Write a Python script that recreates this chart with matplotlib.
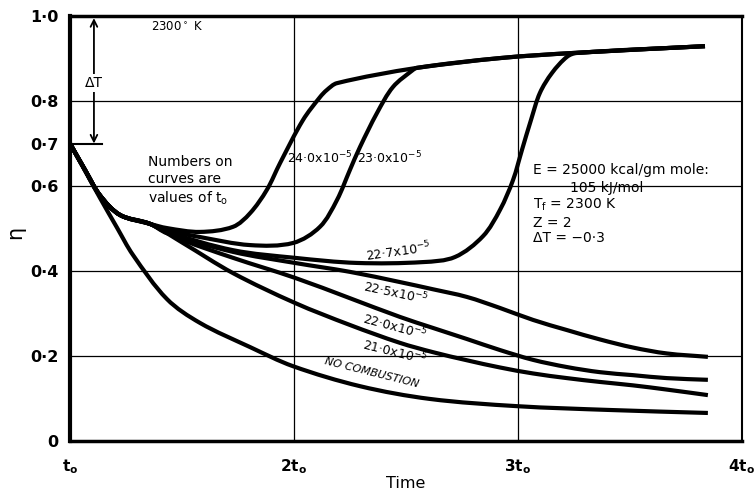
import matplotlib
matplotlib.use("Agg")
import matplotlib.pyplot as plt
import numpy as np
from matplotlib.path import Path
from matplotlib.patches import PathPatch

plt.rcParams['font.family'] = ['DejaVu Sans']
plt.rcParams['mathtext.fontset'] = 'dejavusans'

# ---------------- data (time in units of t0, eta) ----------------
bundle_x = [1.0, 1.067, 1.134, 1.223, 1.357]
bundle_y = [0.700, 0.638, 0.578, 0.532, 0.511]

upper_x = [2.549, 2.920, 3.246, 3.835]
upper_y = [0.878, 0.901, 0.913, 0.929]

c240_x = bundle_x + [1.433, 1.580, 1.728, 1.804, 1.879, 1.938, 2.040, 2.116, 2.147, 2.192] + upper_x
c240_y = bundle_y + [0.501, 0.492, 0.504, 0.536, 0.591, 0.654, 0.755, 0.809, 0.826, 0.842] + upper_y

c230_x = bundle_x + [1.433, 1.580, 1.804, 1.996, 2.116, 2.192, 2.250, 2.295, 2.371, 2.442, 2.531] + upper_x
c230_y = bundle_y + [0.496, 0.480, 0.461, 0.466, 0.504, 0.567, 0.638, 0.692, 0.772, 0.833, 0.873] + upper_y

c227_x = bundle_x + [1.433, 1.728, 2.004, 2.281, 2.576, 2.719, 2.844, 2.920, 2.978, 3.018, 3.058, 3.098, 3.152, 3.219, 3.263, 3.835]
c227_y = bundle_y + [0.492, 0.449, 0.431, 0.419, 0.421, 0.433, 0.482, 0.544, 0.614, 0.685, 0.755, 0.819, 0.866, 0.904, 0.913, 0.929]

c225_x = bundle_x + [1.433, 1.728, 2.004, 2.250, 2.473, 2.621, 2.772, 2.920, 3.067, 3.219, 3.366, 3.513, 3.665, 3.848]
c225_y = bundle_y + [0.489, 0.445, 0.419, 0.398, 0.374, 0.357, 0.339, 0.313, 0.285, 0.261, 0.239, 0.220, 0.206, 0.198]

c220_x = bundle_x + [1.504, 1.728, 2.004, 2.250, 2.473, 2.621, 2.772, 2.920, 3.067, 3.219, 3.366, 3.513, 3.665, 3.848]
c220_y = bundle_y + [0.473, 0.431, 0.384, 0.336, 0.292, 0.266, 0.240, 0.214, 0.191, 0.174, 0.162, 0.155, 0.148, 0.144]

c210_x = bundle_x + [1.504, 1.728, 2.004, 2.250, 2.473, 2.621, 2.772, 2.920, 3.067, 3.219, 3.366, 3.513, 3.665, 3.848]
c210_y = bundle_y + [0.466, 0.395, 0.325, 0.273, 0.231, 0.209, 0.190, 0.173, 0.159, 0.148, 0.139, 0.131, 0.121, 0.108]

nocomb_x = [1.0, 1.067, 1.134, 1.210, 1.281, 1.433, 1.580, 1.804, 1.996, 2.295, 2.607, 2.996, 3.411, 3.848]
nocomb_y = [0.700, 0.636, 0.572, 0.502, 0.438, 0.334, 0.278, 0.221, 0.176, 0.129, 0.099, 0.082, 0.073, 0.066]

ytick_vals = [0, 0.2, 0.4, 0.6, 0.7, 0.8, 1.0]
ytick_labels = ["0", "0·2", "0·4", "0·6", "0·7", "0·8", "1·0"]
xtick_vals = [1, 2, 3, 4]
xtick_labels = [r"t$_\mathbf{o}$", r"2t$_\mathbf{o}$", r"3t$_\mathbf{o}$", r"4t$_\mathbf{o}$"]

# ---------------- figure ----------------
fig = plt.figure(figsize=(7.54, 4.91), dpi=100)
ax = fig.add_axes([0.0928, 0.1018, 0.8912, 0.8656])
ax.set_xlim(1, 4)
ax.set_ylim(0, 1.0)

for yv in [0.2, 0.4, 0.6, 0.8]:
    ax.axhline(yv, color='black', lw=0.9, zorder=1)
for xv in [2, 3]:
    ax.axvline(xv, color='black', lw=0.9, zorder=1)


def smooth_path(xs, ys):
    """Cubic Bezier path through the given data points (chord-length cardinal spline)."""
    pts = np.column_stack([xs, ys]).astype(float)
    disp = ax.transData.transform(pts)
    n = len(pts)
    d = np.hypot(*np.diff(disp, axis=0).T)
    t = np.concatenate([[0], np.cumsum(d)])
    tang = np.zeros_like(pts)
    for i in range(n):
        i0 = max(i - 1, 0)
        i1 = min(i + 1, n - 1)
        tang[i] = (pts[i1] - pts[i0]) / (t[i1] - t[i0])
    verts = [pts[0]]
    codes = [Path.MOVETO]
    for i in range(n - 1):
        h = t[i + 1] - t[i]
        verts += [pts[i] + tang[i] * h / 3, pts[i + 1] - tang[i + 1] * h / 3, pts[i + 1]]
        codes += [Path.CURVE4] * 3
    return Path(verts, codes)


curves = [(c240_x, c240_y), (c230_x, c230_y), (c227_x, c227_y), (c225_x, c225_y),
          (c220_x, c220_y), (c210_x, c210_y), (nocomb_x, nocomb_y)]
for cx, cy in curves:
    ax.add_patch(PathPatch(smooth_path(cx, cy), facecolor='none', edgecolor='black',
                           lw=3.0, joinstyle='round', capstyle='butt', zorder=3))

ax.set_yticks(ytick_vals)
ax.set_yticklabels(ytick_labels, fontsize=11.5, fontweight='bold')
ax.set_xticks(xtick_vals)
ax.set_xticklabels(xtick_labels, fontsize=11, fontweight='bold')
ax.tick_params(axis='both', length=0)
ax.tick_params(axis='x', pad=12)
ax.tick_params(axis='y', pad=8)

ax.set_xlabel("Time", fontsize=11.5, labelpad=0)
ax.set_ylabel("η", fontsize=15, rotation=90)
ax.yaxis.set_label_coords(-0.066, 0.49)

ax.spines['left'].set_linewidth(3.0)
ax.spines['bottom'].set_linewidth(2.5)
ax.spines['top'].set_linewidth(2.5)
ax.spines['right'].set_linewidth(1.5)

# Delta T arrow
ax.plot([1.0, 1.143], [0.70, 0.70], color='black', lw=1.5, zorder=2, clip_on=False)
ax.annotate("", xy=(1.107, 0.995), xytext=(1.107, 0.70),
            arrowprops=dict(arrowstyle='<->', color='black', lw=1.3,
                            mutation_scale=12, shrinkA=0, shrinkB=0))
ax.text(1.107, 0.842, "ΔT", fontsize=10, ha='center', va='center',
        bbox=dict(facecolor='white', edgecolor='none', pad=1.5), zorder=4)

ax.text(1.48, 0.972, r"2300$^\circ$ K", fontsize=8.5, ha='center', va='center')

ax.text(1.348, 0.612, "Numbers on\ncurves are\nvalues of t$_\\mathrm{o}$",
        fontsize=10, ha='left', va='center', linespacing=1.25, zorder=4)

lab_kw = dict(fontsize=9, ha='center', va='center', zorder=4)
ax.text(2.115, 0.666, r"24·0x10$^{-5}$", **lab_kw)
ax.text(2.425, 0.666, r"23·0x10$^{-5}$", **lab_kw)
ax.text(2.464, 0.446, r"22·7x10$^{-5}$", rotation=8, **lab_kw)
ax.text(2.455, 0.348, r"22·5x10$^{-5}$", rotation=-12, **lab_kw)
ax.text(2.451, 0.268, r"22·0x10$^{-5}$", rotation=-15, **lab_kw)
ax.text(2.451, 0.209, r"21·0x10$^{-5}$", rotation=-14, **lab_kw)
ax.text(2.348, 0.160, "NO COMBUSTION", fontsize=8, style='italic',
        rotation=-14, ha='center', va='center', zorder=4)

pk = dict(fontsize=10, ha='left', va='center', zorder=4)
ax.text(3.067, 0.638, "E = 25000 kcal/gm mole:", **pk)
ax.text(3.232, 0.595, "105 kJ/mol", **pk)
ax.text(3.067, 0.555, r"T$_\mathrm{f}$ = 2300 K", **pk)
ax.text(3.067, 0.513, "Z = 2", **pk)
ax.text(3.067, 0.478, "ΔT = −0·3", **pk)

fig.savefig("out.png", dpi=100)
